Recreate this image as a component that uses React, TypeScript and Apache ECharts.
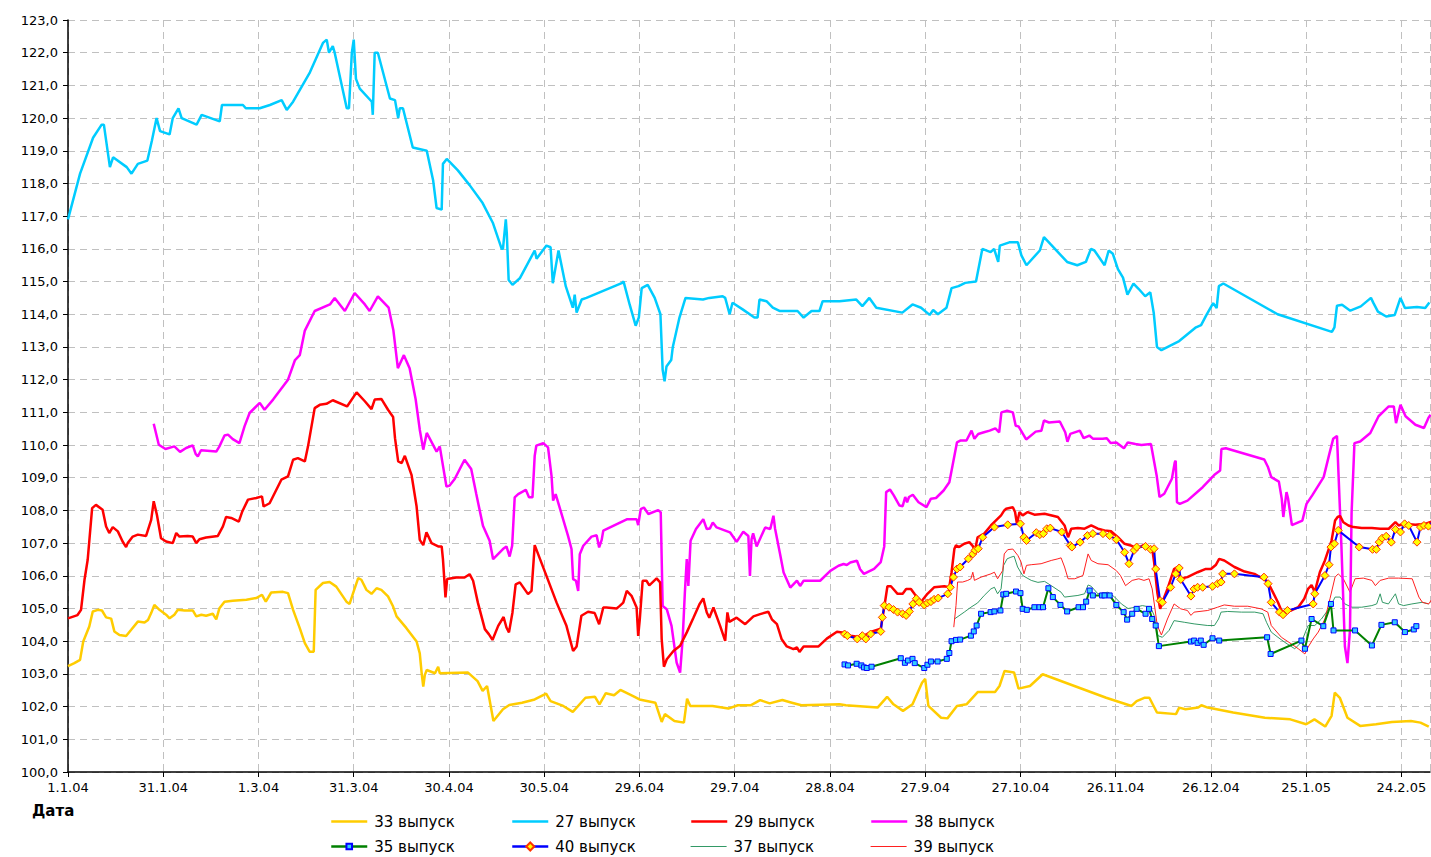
import React, { useEffect, useRef } from "react";
import * as echarts from "echarts";

// x = days since 1.1.2004, y = price
const s33: number[][] = [[0,103.24],[2,103.33],[3.8,103.43],[4.8,103.99],[6.7,104.45],[7.8,104.91],[9.4,104.96],[10.7,104.94],[12,104.73],[13.6,104.69],[14.6,104.3],[16.2,104.19],[18.3,104.16],[19.9,104.35],[22,104.6],[24.1,104.57],[25.2,104.65],[26.2,104.86],[27.2,105.11],[28.8,104.96],[30.9,104.81],[32,104.7],[33.5,104.81],[34.6,104.96],[36.7,104.94],[39.3,104.94],[40.4,104.76],[42,104.81],[43.5,104.78],[45.6,104.84],[46.7,104.67],[47.7,105.01],[49.3,105.21],[51.9,105.24],[56.2,105.27],[59.3,105.32],[61.1,105.42],[62.3,105.21],[64,105.49],[67.7,105.51],[69.3,105.47],[70.9,104.96],[73,104.4],[74.6,103.94],[76.1,103.68],[77.4,103.68],[78,105.57],[80.3,105.78],[82.4,105.81],[84.5,105.67],[87.7,105.21],[88.7,105.14],[89.8,105.47],[91.4,105.93],[92.4,105.88],[94,105.57],[95.6,105.45],[97.2,105.62],[98.7,105.57],[100.8,105.37],[102.4,105.06],[103.5,104.76],[106.6,104.4],[109.8,103.99],[110.8,103.63],[111.4,103.02],[111.9,102.61],[112.4,102.97],[113,103.12],[115.6,103.02],[116.6,103.22],[117.1,103.02],[126,103.04],[129,102.78],[130.6,102.48],[132,102.63],[134,101.56],[137,101.92],[139,102.05],[143,102.12],[147,102.22],[150.6,102.4],[152,102.17],[156,102.02],[159,101.84],[163,102.27],[166,102.3],[167.4,102.07],[169.4,102.41],[172,102.35],[174,102.51],[178,102.32],[180,102.22],[185,102.12],[187,101.53],[188,101.77],[191,101.56],[194,101.51],[195,102.24],[196,102.02],[203,102.02],[208,101.94],[211,102.04],[215,102.04],[218,102.2],[221,102.1],[225,102.2],[228,102.12],[231,102.04],[243,102.07],[245,102.04],[255,101.97],[258,102.3],[260,102.07],[263,101.87],[266,102.07],[269,102.73],[270,102.85],[271,102.02],[275,101.66],[277,101.64],[280,102.02],[283,102.07],[286.6,102.45],[292,102.45],[293.4,102.63],[295,103.09],[298,103.04],[299.4,102.55],[303,102.63],[307,102.99],[317,102.63],[327,102.27],[335,102.02],[336.6,102.17],[339,102.27],[340.6,102.27],[343,101.82],[349,101.77],[350,101.97],[352,101.92],[356,101.97],[357,102.04],[359,101.97],[367,101.82],[377,101.66],[385,101.61],[390,101.46],[392.6,101.61],[396,101.39],[398,101.72],[399,102.43],[400.6,102.27],[403,101.66],[407,101.41],[412,101.46],[417,101.53],[423,101.56],[426,101.51],[428.6,101.39]];

const s27: number[][] = [[0,116.9],[3.8,118.3],[7.9,119.4],[10.6,119.8],[11.3,119.8],[13.2,118.5],[14.2,118.8],[18.5,118.5],[20,118.3],[22,118.6],[25,118.7],[26.4,119.3],[27.9,120.0],[29,119.6],[32,119.5],[33,120.0],[34.8,120.3],[35.8,120.0],[40.5,119.8],[42.1,120.1],[47.8,119.9],[48.5,120.4],[55.1,120.4],[56,120.3],[60.4,120.3],[63.6,120.4],[67.3,120.55],[68.9,120.25],[70.9,120.5],[76.2,121.4],[80.3,122.3],[81.5,122.4],[82.2,122.0],[83.4,122.2],[84,122.0],[87.8,120.3],[88.5,120.3],[89.4,122.0],[90,122.4],[90.7,121.2],[91.9,120.9],[95.7,120.5],[96,120.1],[96.6,122.0],[97.6,122.0],[101.4,120.6],[103,120.55],[104,120.0],[104.5,120.3],[105.5,120.3],[108.6,119.1],[113,119.0],[115,118.1],[116.1,117.25],[117.7,117.2],[118.1,118.6],[119.3,118.75],[122.8,118.4],[126.5,117.95],[130.6,117.4],[133.8,116.8],[136.6,116.0],[137,116.0],[137.9,116.9],[138.2,116.5],[138.8,115.05],[140,114.9],[142.3,115.1],[147,115.95],[147.6,115.7],[150.7,116.1],[152,116.05],[152.7,114.95],[153.6,115.45],[154.5,115.95],[156.8,114.85],[159,114.2],[159.6,114.6],[160.2,114.05],[161.8,114.45],[163.3,114.5],[174.4,114.95],[175,115.0],[176.9,114.3],[178.8,113.65],[179.8,113.9],[180.7,114.8],[182.6,114.9],[184.8,114.5],[186.6,114.0],[187.3,112.3],[187.9,111.95],[188.5,112.4],[190,112.6],[190.5,113.0],[192.6,113.9],[194.5,114.5],[200,114.45],[202,114.5],[206.2,114.55],[207,114.5],[208.4,114.0],[209.3,114.35],[212.5,114.15],[216.2,113.9],[217.2,113.9],[217.8,114.45],[220,114.4],[222,114.2],[224.1,114.1],[229.8,114.1],[231.7,113.9],[234.2,114.1],[236.7,114.1],[237.7,114.4],[243,114.4],[248.3,114.45],[250.2,114.25],[252.4,114.5],[254.6,114.2],[262.8,114.05],[266,114.3],[268.7,114.2],[271.4,113.98],[272.5,114.13],[274,114.0],[276.7,114.2],[278.3,114.8],[280.5,114.86],[282.6,114.96],[286,115.0],[288,116.0],[290.6,115.9],[291.7,116.0],[293,115.6],[293.5,116.1],[296.5,116.2],[299.2,116.2],[300.3,115.8],[301.9,115.5],[306.1,115.95],[307.4,116.36],[309.4,116.15],[314.7,115.6],[317.9,115.5],[320.6,115.6],[322.2,116.0],[323.3,115.95],[326.5,115.5],[327.8,115.95],[329.1,115.85],[330.7,115.38],[332.3,115.12],[333.7,114.6],[335.6,114.94],[337.2,114.78],[339.3,114.55],[340.9,114.67],[342,114.03],[343,113.0],[344.4,112.9],[350,113.18],[355.3,113.6],[356.9,113.67],[358.6,113.98],[360.7,114.34],[361.8,114.19],[362.5,114.86],[363.9,114.94],[381,114.0],[398.1,113.46],[398.9,113.6],[399.7,114.26],[401.3,114.29],[403.9,114.11],[407.2,114.24],[410.4,114.5],[411.2,114.34],[412.6,114.08],[415.2,113.93],[417.9,113.98],[419.7,114.5],[421.1,114.19],[424.9,114.22],[427.5,114.19],[428.8,114.36]];

const s29: number[][] = [[0,104.7],[3,104.8],[4.1,104.96],[5.2,105.88],[6.2,106.49],[7.6,108.07],[8.8,108.17],[10.9,108.02],[12,107.51],[13,107.31],[14.1,107.49],[15.7,107.36],[17.2,107.05],[18.3,106.88],[18.8,107.0],[20.4,107.2],[22,107.26],[24.6,107.22],[26.2,107.71],[27,108.28],[28,107.87],[29.3,107.15],[30.9,107.05],[33,107.0],[34.1,107.31],[35.1,107.2],[37.7,107.22],[39.3,107.2],[40.4,107.0],[41.4,107.12],[43.5,107.17],[47.2,107.22],[48.8,107.51],[49.8,107.8],[51.4,107.77],[53.8,107.66],[54.9,107.97],[56.7,108.33],[59.3,108.38],[61.1,108.43],[61.6,108.12],[63.5,108.22],[67.2,108.94],[69.3,109.04],[70.9,109.55],[72.4,109.6],[74.6,109.5],[75.6,109.96],[77.7,111.13],[79.3,111.23],[81.4,111.26],[83.4,111.37],[87.9,111.18],[90.9,111.61],[93.5,111.34],[95.6,111.1],[96.6,111.39],[98.7,111.41],[100.8,111.08],[102.4,110.86],[103,110.21],[104,109.5],[105.1,109.45],[106.1,109.67],[108.2,109.09],[109.8,108.12],[110.8,107.1],[111.9,106.94],[112.9,107.33],[114.5,107.0],[116.6,106.9],[117.7,106.9],[118.1,106.51],[118.9,105.34],[119.4,105.9],[122.3,105.95],[124.9,105.95],[126.5,106.05],[127.6,105.85],[129.1,105.18],[131.3,104.37],[132.6,104.21],[133.7,104.04],[135.5,104.47],[137.2,104.74],[138.1,104.42],[138.9,104.27],[140,104.88],[141,105.74],[142.3,105.8],[144.9,105.44],[146,105.54],[147,106.94],[150.7,106.0],[153.9,105.18],[157,104.47],[159.1,103.7],[160.2,103.84],[161.7,104.78],[163.8,104.9],[165.9,104.86],[167.3,104.52],[168.6,105.03],[169.6,105.03],[172.8,105.0],[173.8,105.08],[174.9,105.18],[176,105.54],[177.5,105.39],[179.1,105.03],[179.6,104.16],[180.1,104.67],[181,105.85],[182.2,105.85],[183.1,105.71],[185.4,105.92],[186.5,105.8],[187,104.06],[187.7,103.22],[188.6,103.45],[190.7,103.7],[192.8,103.86],[194.9,104.27],[197,104.72],[198.9,105.13],[200.1,105.31],[201.2,104.88],[202,104.72],[203.3,105.03],[205.4,104.47],[207,104.01],[207.7,104.88],[208.3,104.59],[210.6,104.72],[213.3,104.52],[215.9,104.76],[218,104.83],[220.6,104.9],[221.7,104.67],[223.3,104.52],[224.8,104.06],[226.4,103.84],[228.5,103.76],[229.6,103.81],[230.4,103.67],[231.7,103.84],[236.4,103.84],[239,104.08],[242.2,104.29],[244.4,104.26],[246.5,104.17],[249.7,104.12],[252.8,104.28],[256,104.38],[257.1,105.04],[258.1,105.68],[259.2,105.68],[261.3,105.45],[262.9,105.45],[264,105.6],[265.5,105.6],[266.6,105.45],[268.6,105.19],[270.7,105.45],[272.8,105.65],[276,105.68],[277.6,105.65],[278.3,106.11],[279.2,106.83],[279.7,106.93],[280.7,106.88],[282.3,106.98],[283.9,107.03],[285,106.91],[285.7,106.78],[286.5,107.18],[288.6,107.29],[290.7,107.54],[293.9,107.85],[294.9,108.0],[295.5,108.05],[297.6,108.1],[298.3,107.95],[298.9,107.59],[299.7,107.95],[300.7,107.85],[302.3,107.95],[304.4,107.87],[307.6,107.9],[311.8,107.8],[313.9,107.54],[315,107.18],[316,107.44],[318.1,107.46],[320.2,107.44],[322.3,107.54],[324.4,107.44],[326.5,107.39],[328.6,107.36],[330.7,107.18],[332.8,106.98],[334.7,106.93],[336.8,106.83],[338.9,106.95],[340.5,106.88],[341.5,106.83],[342.1,106.42],[343.1,105.5],[344,104.99],[344.7,105.19],[346.3,105.6],[348.4,106.21],[349.4,106.27],[350.3,105.91],[352.6,105.96],[355.8,106.11],[358.4,106.21],[360,106.21],[361.6,106.34],[362.6,106.52],[364.2,106.47],[367.4,106.27],[370.6,106.13],[373.7,106.06],[376.4,105.91],[377.9,105.81],[379.5,105.5],[381.1,105.19],[382.2,104.94],[383.2,104.89],[385.3,104.94],[387.5,105.04],[389.4,105.3],[390.6,105.6],[391.7,105.72],[392.7,105.5],[394.3,106.11],[395.9,106.47],[397.5,106.93],[398,107.08],[399.1,107.69],[399.9,107.8],[400.7,107.83],[401.7,107.64],[403.3,107.54],[404.9,107.49],[407.5,107.46],[410.7,107.46],[413.3,107.44],[416,107.44],[418.1,107.64],[419.1,107.54],[420.7,107.59],[424.4,107.56],[427.5,107.59],[429.6,107.66]];

const s38: number[][] = [[27,110.65],[28.6,110.01],[30.7,109.88],[33.5,109.96],[35.3,109.79],[37.2,109.91],[39.3,109.99],[40.2,109.73],[40.9,109.65],[41.9,109.84],[46.7,109.8],[47.7,109.96],[49.3,110.29],[50.4,110.32],[51.9,110.18],[54,110.06],[55.6,110.57],[57.2,110.98],[60.4,111.29],[61.9,111.08],[64.6,111.39],[69.3,112.0],[71.5,112.6],[73,112.75],[74.6,113.5],[77.7,114.1],[82.5,114.3],[84,114.5],[87.2,114.1],[90.3,114.65],[93.5,114.3],[95,114.1],[97.6,114.55],[101,114.2],[102.5,113.5],[103.9,112.35],[105.8,112.75],[107.6,112.35],[109.5,111.4],[110.8,110.47],[111.9,109.86],[113,110.37],[116.1,109.8],[117.1,109.96],[118.1,109.37],[119.2,108.73],[120.2,108.76],[121.8,108.96],[124.9,109.55],[127,109.27],[128.6,108.5],[130.7,107.53],[132.8,107.07],[133.9,106.51],[137,106.82],[138.1,106.9],[139.1,106.59],[139.9,106.92],[140.7,108.4],[141.8,108.5],[144.2,108.63],[145.2,108.4],[146.3,108.4],[147,109.67],[147.5,109.98],[149.7,110.06],[151.2,109.93],[152.3,109.06],[152.8,108.3],[153.6,108.5],[154.4,108.24],[157.5,107.22],[158.6,106.82],[159.1,105.9],[160,105.85],[160.7,105.54],[161.2,106.66],[162.3,106.92],[164.9,107.2],[166.5,107.24],[167.3,106.87],[168.1,107.1],[168.6,107.38],[176,107.73],[179.1,107.73],[179.6,107.55],[180.4,108.04],[181.4,108.09],[182.8,107.89],[185.9,108.01],[186.7,107.94],[187.3,105.08],[188.6,104.98],[190.1,104.47],[191.7,103.35],[192.8,103.04],[193.6,104.06],[194.3,105.49],[194.9,106.51],[195.4,105.69],[196.1,107.07],[197.8,107.43],[200.1,107.73],[201.2,107.43],[202.2,107.45],[203.1,107.63],[204.3,107.48],[208.5,107.33],[210.6,107.04],[212.7,107.35],[214.3,107.22],[214.8,106.0],[215.3,107.12],[215.8,107.3],[216.9,106.9],[219.6,107.48],[221.2,107.43],[222.2,107.84],[222.7,107.45],[224.3,106.66],[225.4,106.1],[227.5,105.64],[229.6,105.85],[230.6,105.69],[231.7,105.85],[236.9,105.85],[240.1,106.15],[242.7,106.31],[244.3,106.36],[245.3,106.33],[246.4,106.41],[248.5,106.46],[249.5,106.2],[250.7,106.06],[253.9,106.21],[256,106.42],[257.1,106.9],[257.7,108.56],[258.9,108.64],[260.1,108.46],[261.9,108.15],[262.9,108.13],[263.7,108.41],[264.3,108.25],[264.9,108.41],[266.1,108.48],[267.9,108.25],[270.4,108.1],[271.8,108.36],[273.4,108.38],[275.8,108.61],[277.6,108.86],[278.6,109.37],[280,110.08],[281.2,110.14],[283,110.14],[284.6,110.44],[285.5,110.19],[286.7,110.34],[288.5,110.39],[290.3,110.44],[292.1,110.51],[293.3,110.39],[294,111.0],[295.8,111.05],[297.6,111.0],[298.5,110.59],[299.4,110.57],[301.8,110.17],[304.8,110.41],[306.6,110.44],[307.4,110.75],[309,110.69],[312.4,110.72],[314.1,110.39],[314.8,110.1],[315.7,110.34],[318.7,110.44],[319.9,110.21],[321.7,110.29],[322.9,110.19],[325.9,110.19],[327.2,110.21],[328.4,110.06],[330.2,110.08],[332.6,109.9],[333.8,110.08],[336.2,110.03],[338.1,110.0],[341.1,110.03],[342.9,109.07],[343.8,108.41],[345.3,108.51],[347.7,108.97],[348.6,109.47],[348.9,109.52],[349.3,108.25],[350.2,108.2],[352.6,108.3],[357.4,108.71],[361.1,109.09],[362.9,109.22],[363.3,109.88],[364.7,109.9],[376.8,109.56],[378,109.32],[379,109.02],[381.4,108.88],[382.3,108.36],[382.8,107.8],[383.8,108.56],[384.3,108.36],[385.5,107.55],[388.8,107.69],[390.1,108.2],[391.9,108.46],[395.5,109.02],[397.3,109.73],[398.5,110.19],[399.7,110.28],[401.1,106.9],[402.2,103.84],[403,103.33],[403.8,104.35],[404.3,107.92],[405.2,110.06],[407,110.11],[410.2,110.37],[412.8,110.88],[416,111.18],[417.6,111.18],[418.3,110.67],[419.7,111.23],[421.3,110.88],[424.4,110.62],[427.1,110.52],[428.5,110.83],[429.2,110.93]];

const s35: number[][] = [[244.6,103.29],[245.7,103.26],[248.4,103.31],[249.9,103.26],[250.7,103.2],[251.6,103.18],[253.1,103.22],[262.3,103.48],[263.6,103.34],[264.6,103.41],[266,103.46],[266.7,103.33],[269.7,103.18],[270.7,103.28],[271.8,103.38],[273.9,103.38],[276.8,103.46],[277.6,103.64],[278.3,104.0],[279.7,104.04],[281,104.05],[284.4,104.17],[285.3,104.3],[286.2,104.48],[287.6,104.84],[290.6,104.89],[291.8,104.91],[293.7,104.94],[294.6,105.43],[295.5,105.45],[298.6,105.52],[300,105.47],[300.7,104.99],[302,104.96],[304.4,105.04],[306,105.04],[307.1,105.04],[308.8,105.62],[310.2,105.35],[312.6,105.11],[314.7,104.91],[318.3,105.04],[319.7,105.04],[320.7,105.21],[321.8,105.55],[322.8,105.4],[325.7,105.4],[326.5,105.4],[328.1,105.4],[330.2,105.11],[332.5,104.89],[333.6,104.66],[335.2,104.84],[336.6,104.99],[339.4,104.84],[340.5,104.99],[341.5,104.68],[342.6,104.48],[343.6,103.85],[353.7,103.99],[354.7,104.02],[355.8,103.95],[356.8,104.02],[357.7,103.89],[360.5,104.09],[362.6,104.02],[377.7,104.12],[378.8,103.61],[388.5,104.02],[389.6,103.77],[391.7,104.68],[395.4,104.46],[397.8,105.14],[398.6,104.33],[405.4,104.33],[410.7,103.87],[413.7,104.5],[417.9,104.58],[421.1,104.28],[423.9,104.36],[424.7,104.46]];

const s40: number[][] = [[244.6,104.22],[245.5,104.17],[248.6,104.07],[250.2,104.17],[251.3,104.07],[252.8,104.22],[256,104.3],[256.5,104.73],[257.1,105.09],[258.6,105.04],[260,104.97],[261.3,104.89],[262.9,104.84],[264,104.79],[265,104.91],[266.1,105.14],[267.2,105.3],[268.1,105.19],[269.7,105.11],[270.7,105.17],[271.8,105.21],[272.8,105.28],[274.1,105.32],[277.1,105.45],[277.9,105.65],[278.9,105.96],[280,106.21],[281,106.27],[283.6,106.52],[285,106.67],[285.7,106.78],[286.7,106.83],[288.1,107.18],[291.8,107.49],[296,107.56],[300,107.59],[301.1,107.18],[301.9,107.08],[305,107.32],[306.1,107.26],[307.2,107.29],[308.3,107.44],[309.4,107.46],[313,107.34],[315.7,106.93],[316.2,106.88],[318.8,107.03],[321.1,107.23],[322.8,107.29],[326,107.29],[328.1,107.23],[330.2,107.11],[332.8,106.72],[334.2,106.37],[335.8,106.78],[336.6,106.88],[339.4,106.9],[341,106.81],[342.1,106.83],[342.6,106.21],[344,105.24],[344.7,105.19],[347.3,105.65],[348.9,106.06],[350,106.24],[350.5,105.89],[353.7,105.38],[354.7,105.6],[355.8,105.65],[357.4,105.65],[360.5,105.68],[362.1,105.76],[363.2,105.81],[363.7,106.06],[367.4,106.06],[376.7,105.96],[378,105.76],[379,105.19],[381.6,104.89],[382.7,104.81],[384.1,104.94],[392.2,105.14],[392.7,105.45],[395.9,106.01],[397.2,106.34],[397.8,106.88],[398.9,106.98],[400.1,107.39],[406.7,106.88],[410.9,106.81],[412.1,106.81],[413,107.03],[413.9,107.15],[415.2,107.21],[416.8,107.03],[418.1,107.42],[419.7,107.34],[421,107.59],[422.3,107.54],[424.9,107.03],[426,107.49],[427.1,107.54],[428.5,107.52],[429.5,107.62]];

const s37: number[][] = [[279.2,104.68],[282.3,104.89],[284.4,105.04],[286.5,105.17],[288.6,105.4],[290.7,105.6],[291.8,105.65],[292.8,105.45],[293.9,105.6],[294.7,106.32],[295.8,106.52],[297,106.57],[298,106.6],[299.1,106.27],[300.7,106.01],[303.4,105.86],[305.5,105.8],[307.6,105.83],[309.7,105.7],[312.8,105.5],[313.9,105.35],[318.1,105.4],[320.2,105.45],[321.3,105.72],[322.3,105.68],[324.4,105.45],[327.6,105.5],[329.7,105.35],[331.8,105.14],[333.9,105.0],[336.2,105.04],[338.4,105.09],[341,105.04],[342.1,104.79],[343.3,104.17],[344.7,104.12],[346.8,104.33],[348.4,104.63],[351.6,104.58],[354.7,104.53],[359,104.48],[361.1,104.48],[362.4,104.68],[363.2,104.89],[365.3,104.91],[369.6,104.89],[373.8,104.89],[376.4,104.84],[377.5,104.58],[379,104.28],[381.1,104.12],[383.2,103.97],[384.8,103.87],[386.4,103.77],[388.5,103.97],[390.6,104.48],[392.7,104.48],[394.8,104.68],[397.5,105.04],[399.1,105.35],[400.7,105.35],[402.2,105.14],[404.4,105.04],[407.5,105.04],[410.7,105.09],[412.2,105.14],[413.3,105.45],[414,105.19],[415.9,105.14],[418.1,105.45],[419.1,105.14],[420.7,105.09],[423.3,105.14],[426.5,105.19],[428.6,105.14]];

const s39: number[][] = [[279,104.43],[279.7,105.09],[280.2,105.81],[281.8,105.81],[283.4,105.86],[284.4,105.91],[285,106.11],[285.5,105.86],[287.6,105.96],[290.7,106.06],[291.8,106.11],[292.8,105.91],[294.4,106.16],[294.9,106.67],[296,106.8],[297.6,106.82],[299.2,106.62],[300.2,106.42],[301.1,106.06],[301.9,106.32],[303.4,106.34],[306.5,106.37],[309.7,106.47],[311.8,106.52],[312.8,106.55],[313.9,106.27],[315,105.91],[317.1,105.91],[319.7,106.01],[321.3,106.67],[322.3,106.47],[324.4,106.37],[327.6,106.34],[330.2,106.16],[331.5,106.01],[333.1,105.7],[335.2,105.86],[337.3,105.91],[338.9,105.86],[340.5,105.91],[341.5,105.6],[343.1,104.48],[344.4,104.19],[346.3,104.68],[348.4,105.14],[350.5,104.99],[352.6,104.94],[353.7,104.79],[354.7,104.89],[359,104.94],[362.1,105.04],[364.2,105.11],[367.4,105.07],[371.6,105.07],[375.8,104.99],[377.9,104.89],[379,104.48],[382.2,104.12],[385.3,103.92],[387.5,103.77],[389.6,103.61],[390.6,103.82],[392.2,104.07],[393.8,104.28],[395.9,104.68],[397.5,105.3],[399.1,105.96],[400.1,106.06],[401.7,105.91],[403.8,105.5],[405.4,105.91],[408,105.93],[410.7,105.86],[411.8,105.7],[413.3,105.86],[416,105.93],[419.1,105.93],[423.4,105.91],[425.5,105.35],[426.6,105.19],[428.6,105.14],[429.7,105.3]];

const seriesNames = ["33 выпуск", "27 выпуск", "29 выпуск", "38 выпуск", "35 выпуск", "40 выпуск", "37 выпуск", "39 выпуск"];
const xAxisTitle = "Дата";

const FONT = "DejaVu Sans";

function fmtDate(v: number): string {
  const d = new Date(2004, 0, 1 + Math.round(v));
  return `${d.getDate()}.${d.getMonth() + 1}.${String(d.getFullYear()).slice(2)}`;
}

export default function App() {
  const ref = useRef<HTMLDivElement>(null);
  useEffect(() => {
    if (!ref.current) return;
    const chart = echarts.init(ref.current, undefined, { renderer: "svg" });
    const thick = (name: string, data: number[][], color: string, z: number) => ({
      name, type: "line", data, symbol: "none", z,
      lineStyle: { color, width: 2.5 }, itemStyle: { color },
    });
    const legendLefts = [330, 511, 690, 870];
    const legendTops = [814, 839];
    const markerLegend: Record<number, number> = { 4: 7, 5: 10 };
    const legendLineWidth = [2.5, 2.5, 2.5, 2.5, 2.5, 2.5, 1.2, 1.2];
    const legends = seriesNames.map((n, i) => ({
      data: [n],
      left: legendLefts[i % 4],
      top: legendTops[Math.floor(i / 4)],
      padding: 0,
      itemWidth: 36,
      itemHeight: markerLegend[i] ?? 14,
      selectedMode: false,
      itemStyle: markerLegend[i] ? {} : { opacity: 0 },
      lineStyle: { width: legendLineWidth[i] },
      textStyle: { fontFamily: FONT, fontSize: 15, color: "#000", padding: [0, 0, 0, 2] },
    }));
    const option: any = {
      animation: false,
      backgroundColor: "#ffffff",
      textStyle: { fontFamily: FONT },
      grid: { left: 68, top: 20, right: 1, bottom: 85, containLabel: false },
      legend: legends,
      graphic: [
        { type: "text", left: 32, top: 803, style: { text: xAxisTitle, font: `bold 15px "${FONT}"`, fill: "#000" } },
      ],
      xAxis: {
        type: "value", min: 0, max: 429, interval: 30,
        axisLine: { show: true, onZero: false, lineStyle: { color: "#000", width: 1.5 } },
        axisTick: { show: true, length: 5, lineStyle: { color: "#000" } },
        axisLabel: { color: "#000", fontSize: 13, fontFamily: FONT, margin: 9, showMaxLabel: false, formatter: (v: number) => (v % 30 === 0 ? fmtDate(v) : "") },
        splitLine: { show: true, lineStyle: { color: "#c0c0c0", type: [7, 5], width: 1 } },
      },
      yAxis: {
        type: "value", min: 100, max: 123, interval: 1,
        axisLine: { show: true, lineStyle: { color: "#000", width: 1.5 } },
        axisTick: { show: true, length: 5, lineStyle: { color: "#000" } },
        axisLabel: { color: "#000", fontSize: 13, fontFamily: FONT, margin: 10, formatter: (v: number) => v.toFixed(1).replace(".", ",") },
        splitLine: { show: true, lineStyle: { color: "#c0c0c0", type: [7, 5], width: 1 } },
      },
      series: [
        { name: seriesNames[6], type: "line", data: s37, symbol: "none", z: 2, lineStyle: { color: "#339966", width: 1 }, itemStyle: { color: "#339966" } },
        { name: seriesNames[7], type: "line", data: s39, symbol: "none", z: 2, lineStyle: { color: "#ff2020", width: 1 }, itemStyle: { color: "#ff2020" } },
        thick(seriesNames[0], s33, "#ffcc00", 3),
        thick(seriesNames[1], s27, "#00ccff", 3),
        thick(seriesNames[3], s38, "#ff00ff", 3),
        thick(seriesNames[2], s29, "#ff0000", 4),
        {
          name: seriesNames[4], type: "line", data: s35, z: 5,
          symbol: "rect", symbolSize: 5, showSymbol: true,
          lineStyle: { color: "#008000", width: 2 },
          itemStyle: { color: "#33ccff", borderColor: "#0000ff", borderWidth: 1 },
        },
        {
          name: seriesNames[5], type: "line", data: s40, z: 6,
          symbol: "diamond", symbolSize: 8, showSymbol: true,
          lineStyle: { color: "#0000ff", width: 2 },
          itemStyle: { color: "#ffff00", borderColor: "#ff3300", borderWidth: 1 },
        },
      ],
    };
    chart.setOption(option);
    return () => chart.dispose();
  }, []);
  return <div ref={ref} style={{ position: "absolute", left: 0, top: 0, width: 1431, height: 857 }} />;
}
